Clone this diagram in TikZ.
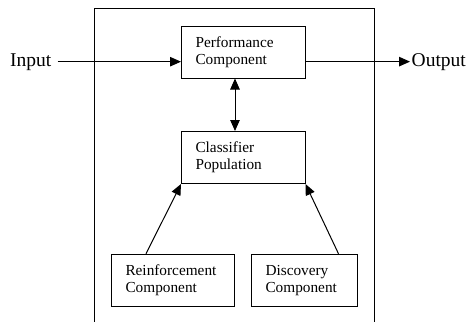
\documentclass[tikz,border=0pt]{standalone}
\usepackage{fontspec}
\setmainfont{Liberation Serif}
\usetikzlibrary{arrows.meta}
\tikzset{
  box/.style={draw, line width=1pt, rectangle, inner xsep=14pt, inner ysep=0pt, align=left,
    minimum height=52pt, font=\fontsize{15.3}{17}\selectfont, anchor=center},
  tip/.tip={Triangle[length=11pt,width=9.5pt]},
  arr/.style={line width=1pt, -tip},
  darr/.style={line width=1pt, tip-tip},
  lbl/.style={inner sep=0pt, font=\fontsize{19.5}{22}\selectfont, anchor=base west},
  frame/.style={line width=1pt}
}
\begin{document}
\begin{tikzpicture}[x=1pt,y=1pt]
\useasboundingbox (0,0) rectangle (467,-322);
% outer frame (open at the bottom)
\coordinate (fbl) at (94,-322);
\coordinate (ftl) at (94,-8.3);
\coordinate (ftr) at (374.3,-8.3);
\coordinate (fbr) at (374.3,-322);
\draw[frame] (fbl) -- (ftl) -- (ftr) -- (fbr);
% boxes
\node[box, text width=95.5pt] (perf) at (243.25,-52) {Performance\\Component};
\node[box, text width=95.5pt] (class) at (243.25,-157.5) {Classifier\\Population};
\node[box, text width=95pt] (reinf) at (173,-280.25) {Reinforcement\\Component};
\node[box, text width=77.5pt] (disc) at (304.25,-280.25) {Discovery\\Component};
% labels
\node[lbl] (in) at (10,-66) {Input};
\node[lbl] (out) at (411.5,-66) {Output};
% connectors
\draw[arr] ([xshift=6pt]in.east) -- (perf.west |- in.east);
\draw[arr] (perf.east |- out.west) -- ([xshift=-1.5pt]out.west);
\coordinate (vx) at (235,0);
\draw[darr] (vx |- perf.south) -- (vx |- class.north);
\coordinate (rs) at (146,0);
\coordinate (ds) at (338.5,0);
\draw[arr] (rs |- reinf.north) -- (class.south west);
\draw[arr] (ds |- disc.north) -- (class.south east);
\end{tikzpicture}
\end{document}
